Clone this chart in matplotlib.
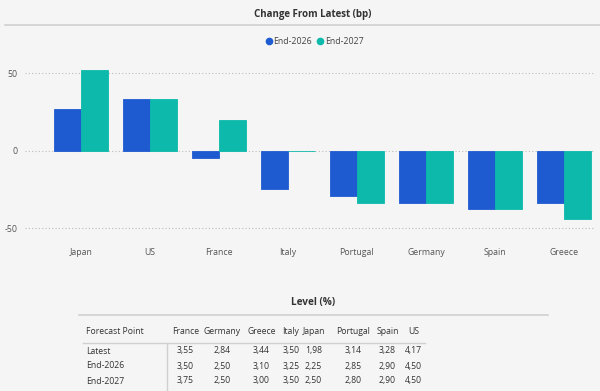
import matplotlib

matplotlib.use("Agg")
import matplotlib.pyplot as plt
from matplotlib.lines import Line2D

# bar chart data (bp change from latest)
countries = ["Japan", "US", "France", "Italy", "Portugal", "Germany", "Spain", "Greece"]
chg_2026 = [27, 33, -5, -25, -29, -34, -38, -34]
chg_2027 = [52, 33, 20, 0, -34, -34, -38, -44]

# level table data (%)
table_cols = ["France", "Germany", "Greece", "Italy", "Japan", "Portugal", "Spain", "US"]
row_labels = ["Latest", "End-2026", "End-2027"]
lvl_latest = [3.55, 2.84, 3.44, 3.50, 1.98, 3.14, 3.28, 4.17]
lvl_2026 = [3.50, 2.50, 3.10, 3.25, 2.25, 2.85, 2.90, 4.50]
lvl_2027 = [3.75, 2.50, 3.00, 3.50, 2.50, 2.80, 2.90, 4.50]

BLUE = "#1f5bd0"
TEAL = "#0cb9aa"
BG = "#f5f5f5"
W, H = 600, 391

plt.rcParams["font.family"] = ["Open Sans", "DejaVu Sans"]


def fx(px):
    return px / W


def fy(py):
    return 1 - py / H


fig = plt.figure(figsize=(6, 3.91), dpi=100, facecolor=BG)

# chart area in pixels: x 25..595, y 60..240
ax = fig.add_axes([fx(25), fy(240), fx(595) - fx(25), fy(60) - fy(240)])
ax.set_facecolor(BG)
x = list(range(len(countries)))
bw = 0.39
ax.bar([i - bw / 2 for i in x], chg_2026, width=bw, color=BLUE, edgecolor=BLUE, linewidth=0.6)
ax.bar([i + bw / 2 for i in x], chg_2027, width=bw, color=TEAL, edgecolor=TEAL, linewidth=0.6)
ax.set_xlim(-0.81, 7.45)
ax.set_ylim(-57.7, 58.4)
ax.set_yticks([-50, 0, 50])
ax.set_yticklabels(["-50", "0", "50"])
ax.set_xticks(x)
ax.set_xticklabels(countries)
for v in (-50, 0, 50):
    ax.axhline(v, color="#bdbdbd", lw=0.8, ls=(0, (1, 2)), zorder=0)
for s in ax.spines.values():
    s.set_visible(False)
ax.tick_params(length=0, labelsize=6.3, colors="#555555")
ax.tick_params(axis="y", pad=5)
ax.tick_params(axis="x", pad=6)

handles = [
    Line2D([], [], marker="o", ls="", color=BLUE, markersize=4.5, label="End-2026"),
    Line2D([], [], marker="o", ls="", color=TEAL, markersize=4.5, label="End-2027"),
]
fig.legend(handles=handles, loc="center", bbox_to_anchor=(fx(313), fy(42)), ncol=2,
           frameon=False, fontsize=6.3, handletextpad=-0.2, columnspacing=0.2,
           handlelength=1.5, labelcolor="#444444")

# top title
fig.text(fx(313), fy(14), "Change From Latest (bp)", ha="center", va="center",
         fontsize=7, fontweight="bold", color="#333333")
fig.add_artist(Line2D([fx(5), fx(600)], [fy(25), fy(25)], color="#d0d0d0", lw=1.2,
                      transform=fig.transFigure))

# level table
fig.text(fx(313), fy(303), "Level (%)", ha="center", va="center",
         fontsize=7.2, fontweight="bold", color="#333333")
fig.add_artist(Line2D([fx(79), fx(548)], [fy(315), fy(315)], color="#d0d0d0", lw=1.2,
                      transform=fig.transFigure))
col_x = [185.5, 222.5, 261.5, 291, 313.5, 353.5, 387.5, 413.5]
fig.text(fx(86), fy(331), "Forecast Point", ha="left", va="center", fontsize=6.2, color="#333333")
for cx, name in zip(col_x, table_cols):
    fig.text(fx(cx), fy(331), name, ha="center", va="center", fontsize=6.2, color="#333333")
fig.add_artist(Line2D([fx(83), fx(425)], [fy(343), fy(343)], color="#d0d0d0", lw=1.0,
                      transform=fig.transFigure))
fig.add_artist(Line2D([fx(167), fx(167)], [fy(343), fy(391)], color="#d0d0d0", lw=1.0,
                      transform=fig.transFigure))
row_y = [351, 366, 381]
for ry, label, vals in zip(row_y, row_labels, [lvl_latest, lvl_2026, lvl_2027]):
    fig.text(fx(86), fy(ry), label, ha="left", va="center", fontsize=6.2, color="#333333")
    for cx, v in zip(col_x, vals):
        fig.text(fx(cx), fy(ry), f"{v:.2f}".replace(".", ","), ha="center", va="center",
                 fontsize=6.2, color="#333333")

fig.savefig("out.png", dpi=100, facecolor=BG)
